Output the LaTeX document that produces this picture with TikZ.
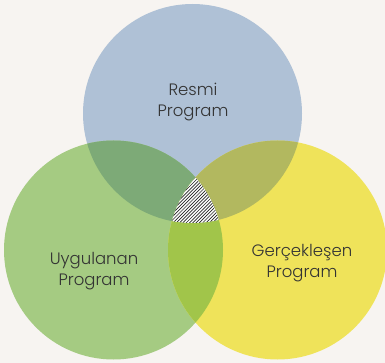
\documentclass[tikz,border=0pt]{standalone}
\usepackage{fontspec}
\setmainfont{Poppins Light}
\definecolor{bgc}{HTML}{F7F4F1}
\definecolor{cblue}{HTML}{AFC1D6}
\definecolor{cgreen}{HTML}{A5CB82}
\definecolor{cyellow}{HTML}{EFE35A}
\definecolor{cbg}{HTML}{7DAA77}
\definecolor{cby}{HTML}{B2B85F}
\definecolor{cgy}{HTML}{A1C54A}
\definecolor{txt}{HTML}{333333}
\tikzset{
  lbl/.style={text=txt, font=\fontsize{16.5}{21}\selectfont, align=center, inner sep=0pt},
  hatchline/.style={draw=black!85, line width=0.7pt}
}
\begin{document}
\begin{tikzpicture}[x=1pt,y=-1pt]
\useasboundingbox (0,0) rectangle (385,363);
\fill[bgc] (0,0) rectangle (385,363);
\clip (0,0) rectangle (385,363);
\def\blueC{(192.5,113.5) circle (109.5)}
\def\greenC{(113.5,250) circle (109.5)}
\def\yellowC{(277.5,250) circle (109.5)}
\fill[cblue] \blueC;
\fill[cgreen] \greenC;
\fill[cyellow] \yellowC;
\begin{scope}\clip \blueC; \fill[cbg] \greenC; \end{scope}
\begin{scope}\clip \blueC; \fill[cby] \yellowC; \end{scope}
\begin{scope}\clip \greenC; \fill[cgy] \yellowC; \end{scope}
\begin{scope}
  \clip \blueC; \clip \greenC; \clip \yellowC;
  \fill[white] (150,150) rectangle (240,240);
  \foreach \k in {0,...,60} {
    \draw[hatchline] ({60+3.3*\k},250) -- ({160+3.3*\k},150);
  }
\end{scope}
\node[lbl] (resmi) at (193,102.5) {Resmi\\Program};
\node[lbl] (uyg) at (94,271) {Uygulanan\\Program};
\node[lbl] (ger) at (302,263) {Gerçekleşen\\Program};
\end{tikzpicture}
\end{document}
